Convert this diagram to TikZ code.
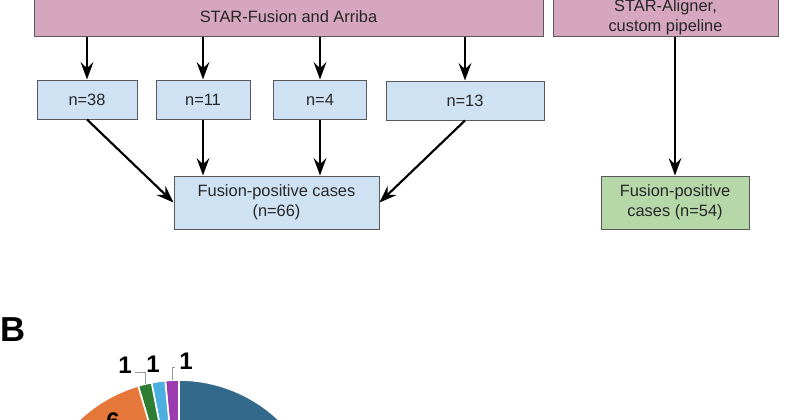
\documentclass[tikz,border=0pt]{standalone}
\usepackage{fontspec}
\setmainfont{Liberation Sans}
\usetikzlibrary{arrows.meta}
\definecolor{boxpink}{HTML}{D5A6BD}
\definecolor{boxblue}{HTML}{CFE2F3}
\definecolor{boxgreen}{HTML}{B6D7A8}
\definecolor{piedark}{HTML}{336A8C}
\definecolor{pieorange}{HTML}{E6773A}
\definecolor{piegreen}{HTML}{2E7D32}
\definecolor{pielight}{HTML}{4DAEE0}
\definecolor{piepurple}{HTML}{9C3BB0}
\begin{document}
\begin{tikzpicture}[
  x=0.75pt, y=-0.75pt,
  every node/.style = {shape=rectangle, draw=black!65, line width=0.75pt,
    align=center, inner sep=0pt, font=\fontsize{12.3}{15}\selectfont, text=black!85},
  pipe/.style = {fill=boxpink, minimum height=28.5pt},
  nbox/.style = {fill=boxblue, minimum height=29.25pt},
  cases/.style = {minimum height=39.75pt},
  arr/.style = {-{Stealth[length=13pt,width=9.5pt,inset=4.5pt]}, line width=1.6pt},
  slice/.style = {draw=white, line width=1.2pt},
  num/.style = {draw=none, font=\fontsize{18}{18}\selectfont\bfseries, text=black},
  leader/.style = {draw=black!40, line width=0.6pt}
  ]
  \useasboundingbox (0,0) rectangle (800,419);
  \clip (0,0) rectangle (800,419);
  \fill[white] (0,0) rectangle (800,419);

  \node[pipe, minimum width=381.75pt] (fa) at (288.5,17) {STAR-Fusion and Arriba};
  \node[pipe, minimum width=168.75pt] (sa) at (665.5,17) {STAR-Aligner,\\custom pipeline};
  \node[nbox, minimum width=75pt]    (n38) at (87,99.5)  {n=38};
  \node[nbox, minimum width=70.5pt]  (n11) at (203,99.5) {n=11};
  \node[nbox, minimum width=69.75pt] (n4)  at (320,99.5) {n=4};
  \node[nbox, minimum width=118.5pt] (n13) at (465,100.5) {n=13};
  \node[cases, fill=boxblue, minimum width=153.75pt] (fpa) at (276.5,202.5)
    {Fusion-positive cases\\(n=66)};
  \node[cases, fill=boxgreen, minimum width=111pt] (fps) at (675,202.5)
    {Fusion-positive\\cases (n=54)};

  \foreach \n in {n38,n11,n4,n13}
    \draw[arr] (fa.south -| \n) -- (\n.north);
  \draw[arr] (n38.south) -- (fpa.west);
  \draw[arr] (n11.south) -- (n11.south |- fpa.north);
  \draw[arr] (n4.south) -- (n4.south |- fpa.north);
  \draw[arr] (n13.south) -- (fpa.east);
  \draw[arr] (sa.south -| fps) -- (fps.north);

  \node[draw=none, anchor=west, font=\fontsize{26}{26}\selectfont\bfseries, text=black]
    (panelB) at (0,330) {B};

  \begin{scope}[shift={(179,525)}, y=0.75pt]
    \path[slice, fill=piedark]   (0,0) -- (90:145) arc[start angle=90, end angle=20, radius=145] -- cycle;
    \path[slice, fill=piepurple] (0,0) -- (90:145) arc[start angle=90, end angle=95.45, radius=145] -- cycle;
    \path[slice, fill=pielight]  (0,0) -- (95.45:145) arc[start angle=95.45, end angle=100.91, radius=145] -- cycle;
    \path[slice, fill=piegreen]  (0,0) -- (100.91:145) arc[start angle=100.91, end angle=106.36, radius=145] -- cycle;
    \path[slice, fill=pieorange] (0,0) -- (106.36:145) arc[start angle=106.36, end angle=139.09, radius=145] -- cycle;
    \coordinate (gr) at (103.6:145);
    \coordinate (pu) at (92.7:145);
  \end{scope}

  \node[num] (l1) at (125,365.5) {1};
  \node[num] (l2) at (153,364) {1};
  \node[num] (l3) at (186,361) {1};
  \node[num] (l6) at (113,421) {6};
  \draw[leader] ([shift={(2pt,-5pt)}]l1.east) -| (gr);
  \draw[leader] (pu) |- ([shift={(-3pt,-5pt)}]l3.west);
\end{tikzpicture}
\end{document}
